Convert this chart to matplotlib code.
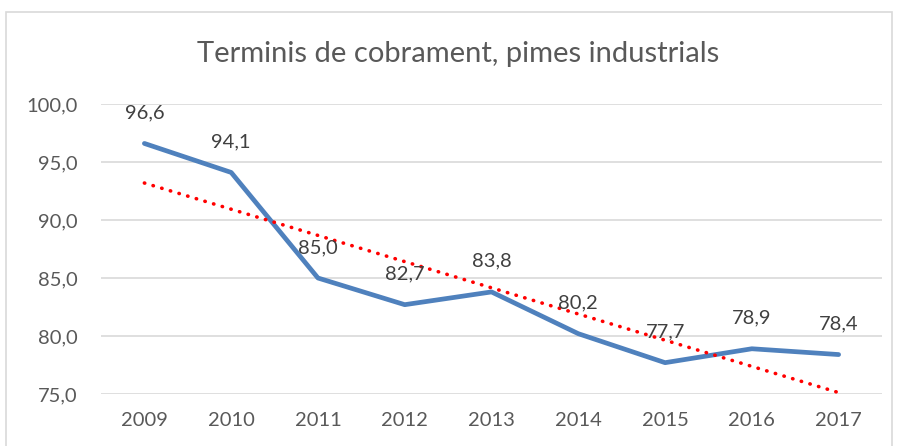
import matplotlib
matplotlib.use("Agg")
import matplotlib.pyplot as plt
from matplotlib.patches import Rectangle
import numpy as np

# data
years = ["2009", "2010", "2011", "2012", "2013", "2014", "2015", "2016", "2017"]
days = [96.6, 94.1, 85.0, 82.7, 83.8, 80.2, 77.7, 78.9, 78.4]
y_ticks = [75, 80, 85, 90, 95, 100]

plt.rcParams["font.family"] = ["Lato", "DejaVu Sans"]
text_color = "#595959"

fig = plt.figure(figsize=(8.97, 4.46), dpi=100)
ax = fig.add_axes([0.1126, 0.1166, 0.8707, 0.6502])

x = np.arange(len(years))
ax.plot(x, days, color="#4f81bd", linewidth=3.4, solid_capstyle="round", zorder=3)

# linear trendline, as Excel draws it
slope, icpt = np.polyfit(x, days, 1)
ax.plot(x, slope * x + icpt, color="#ff0000", linewidth=2.6,
        linestyle=(0, (0.1, 2.4)), dash_capstyle="round", zorder=4)

for xi, v in zip(x, days):
    ax.annotate(f"{v:.1f}".replace(".", ","), (xi, v), xytext=(0, 22),
                textcoords="offset points", ha="center", va="center",
                fontsize=14.5, color="#404040", zorder=5)

ax.set_xlim(-0.5, len(years) - 0.5)
ax.set_ylim(75, 100)
ax.set_xticks(x)
ax.set_xticklabels(years)
ax.set_yticks(y_ticks)
ax.set_yticklabels([f"{t:.1f}".replace(".", ",") for t in y_ticks])
ax.tick_params(axis="both", length=0, labelsize=14.5, colors=text_color)
ax.tick_params(axis="x", pad=13)
ax.tick_params(axis="y", pad=17)
ax.grid(axis="y", color="#d9d9d9", linewidth=1.2)
ax.set_axisbelow(True)
for s in ax.spines.values():
    s.set_visible(False)

fig.text(0.5106, 0.878, "Terminis de cobrament, pimes industrials", ha="center",
         va="center", fontsize=21, color=text_color)

# chart border
fig.patches.append(Rectangle((6 / 897, -0.05), 886 / 897, 1.05 - 12 / 446,
                             transform=fig.transFigure, fill=False,
                             edgecolor="#d9d9d9", linewidth=1.2))

fig.savefig("out.png", dpi=100)
